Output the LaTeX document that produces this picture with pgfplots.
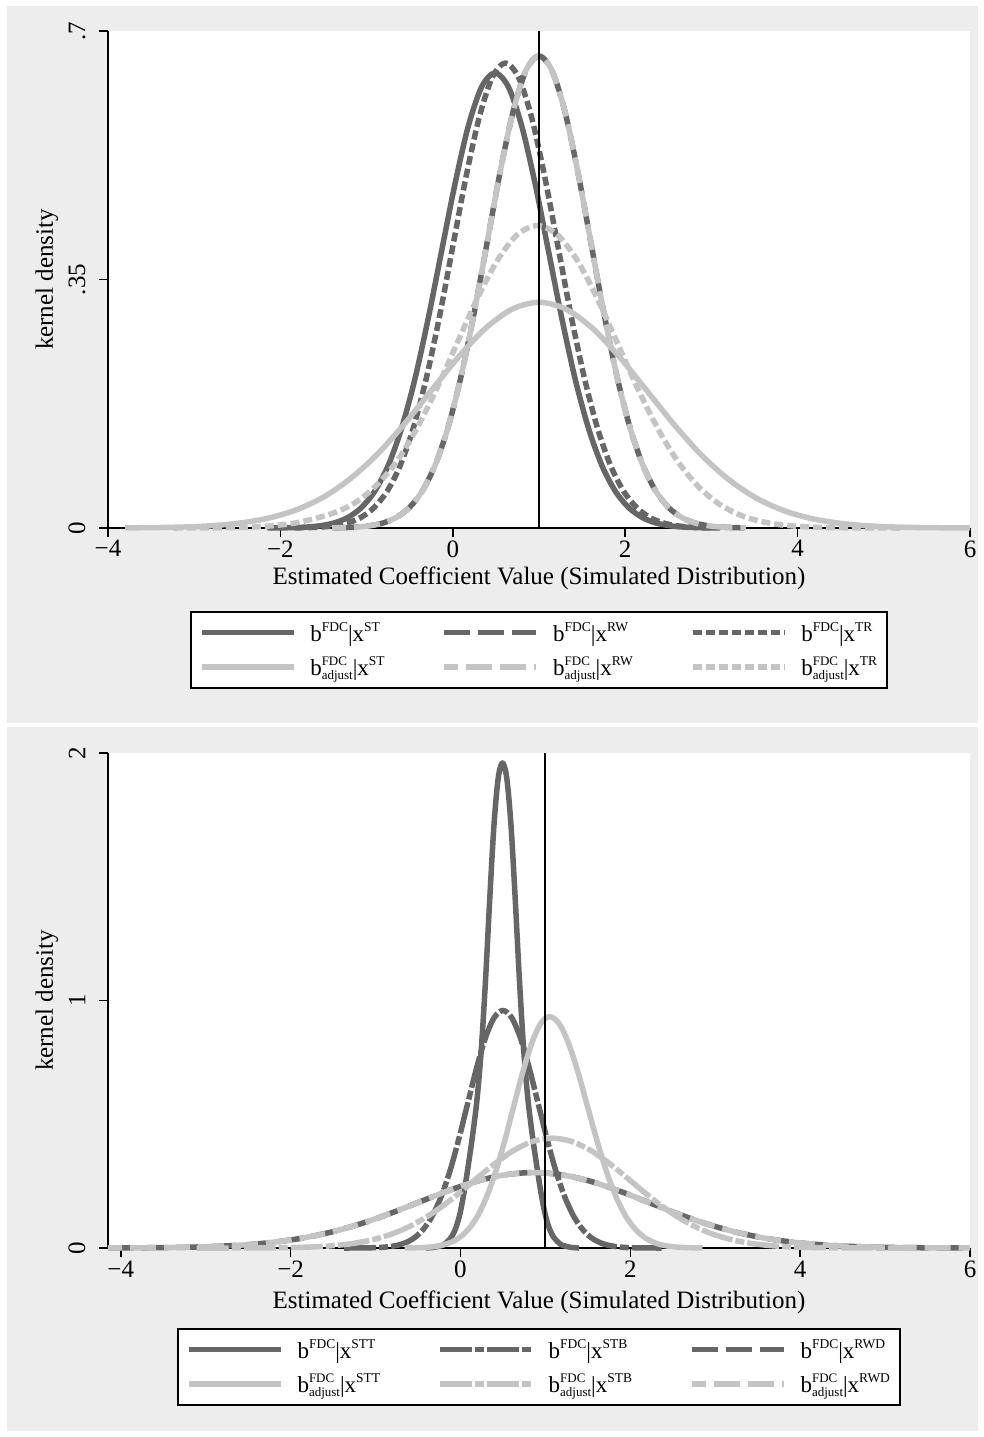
\documentclass[border=0pt]{standalone}
\usepackage{fontspec}
\setmainfont{Liberation Serif}
\usepackage{pgfplots}
\pgfplotsset{compat=1.18}
\definecolor{dk}{RGB}{102,102,102}
\definecolor{lt}{RGB}{196,196,196}
\definecolor{bg}{RGB}{237,237,237}
\newcommand\bigf{\fontsize{25}{30}\selectfont}
\newcommand\sps[1]{\raisebox{9.5pt}{\fontsize{13.5}{14}\selectfont #1}}
\newcommand\adj{\rlap{\raisebox{10pt}{\fontsize{13}{14}\selectfont FDC}}\raisebox{-4pt}{\fontsize{13}{14}\selectfont adjust}}
\pgfplotsset{
  stata/.style={
    scale only axis, width=862pt,
    axis x line*=bottom, axis y line*=left,
    axis line style={black, line width=1.6pt},
    tick align=outside, major tick length=9pt,
    tick style={black, line width=1.6pt},
    tick label style={font=\bigf},
    label style={font=\bigf},
    axis background/.style={fill=white},
    clip=false,
    yticklabel style={rotate=90, anchor=south},
    yticklabel shift=10pt,
    legend columns=3,
    legend cell align=left,
    legend style={draw=black, line width=1.5pt, fill=white, font=\fontsize{23}{27}\selectfont,
      anchor=north, /tikz/every even column/.append style={column sep=55pt},
      /tikz/every odd column/.append style={column sep=12pt},
      inner xsep=8pt, inner ysep=9pt, row sep=10pt},
    legend image code/.code={\draw[##1] (0pt,0pt) -- (92pt,0pt);},
    every axis plot/.append style={line width=5.5pt, smooth, line join=round},
  },
  dks/.style={draw=dk, solid},
  lts/.style={draw=lt, solid},
}
\begin{document}
\begin{tikzpicture}
\useasboundingbox (0pt,0pt) rectangle (984pt,-1437pt);
\fill[white] (0pt,0pt) rectangle (984pt,-1437pt);
\fill[bg] (7pt,-6pt) rectangle (978pt,-723pt);
\fill[bg] (7pt,-727pt) rectangle (978pt,-1431pt);

\begin{axis}[stata, at={(108pt,-528pt)}, anchor=south west, height=497pt,
  xmin=-4, xmax=6, ymin=0, ymax=0.7,
  xtick={-4,-2,0,2,4,6}, xticklabels={−4,−2,0,2,4,6},
  ytick={0,0.35,0.7}, yticklabels={0,.35,.7},
  xlabel={Estimated Coefficient Value (Simulated Distribution)},
  ylabel={kernel density},
  xlabel style={at={(axis description cs:0.5,-0.1006)}, anchor=center},
  ylabel style={at={(axis description cs:-0.071,0.5)}, anchor=center},
  legend style={at={(0.5,-0.167)}},
]
\addplot[dks] coordinates {(-2.15,0.0001) (-1.998,0.0002) (-1.843,0.0006) (-1.687,0.0014) (-1.532,0.0033) (-1.376,0.0071) (-1.221,0.0146) (-1.065,0.0282) (-0.910,0.0510) (-0.754,0.0868) (-0.599,0.1386) (-0.443,0.2081) (-0.288,0.2935) (-0.132,0.3888) (0.024,0.4838) (0.179,0.5657) (0.335,0.6213) (0.490,0.6410) (0.645,0.6213) (0.801,0.5657) (0.957,0.4838) (1.112,0.3888) (1.268,0.2935) (1.423,0.2081) (1.579,0.1386) (1.734,0.0868) (1.890,0.0510) (2.045,0.0282) (2.201,0.0146) (2.356,0.0071) (2.512,0.0033) (2.667,0.0014) (2.823,0.0006) (2.978,0.0002) (3.1,0.0001)};
\addlegendentry{b\sps{FDC}|x\sps{ST}}
\addplot[draw=dk, dash pattern=on 26pt off 8pt] coordinates {(-1.40,0.0002) (-1.25,0.0006) (-1.10,0.0015) (-0.95,0.0034) (-0.80,0.0074) (-0.65,0.0152) (-0.50,0.0292) (-0.35,0.0529) (-0.20,0.0900) (-0.05,0.1438) (0.10,0.2159) (0.25,0.3045) (0.40,0.4033) (0.55,0.5020) (0.70,0.5869) (0.85,0.6445) (1.00,0.6650) (1.15,0.6445) (1.30,0.5869) (1.45,0.5020) (1.60,0.4033) (1.75,0.3045) (1.90,0.2159) (2.05,0.1438) (2.20,0.0900) (2.35,0.0529) (2.50,0.0292) (2.65,0.0152) (2.80,0.0074) (2.95,0.0034) (3.10,0.0015) (3.25,0.0006) (3.40,0.0002)};
\addlegendentry{b\sps{FDC}|x\sps{RW}}
\addplot[draw=dk, dash pattern=on 9pt off 4pt] coordinates {(-1.826,0.0002) (-1.674,0.0006) (-1.522,0.0014) (-1.369,0.0033) (-1.217,0.0073) (-1.065,0.0149) (-0.913,0.0288) (-0.760,0.0521) (-0.608,0.0886) (-0.456,0.1417) (-0.304,0.2127) (-0.151,0.2999) (0.001,0.3973) (0.153,0.4944) (0.306,0.5780) (0.458,0.6348) (0.610,0.6550) (0.762,0.6348) (0.915,0.5780) (1.067,0.4944) (1.219,0.3973) (1.371,0.2999) (1.524,0.2127) (1.676,0.1417) (1.828,0.0886) (1.980,0.0521) (2.133,0.0288) (2.285,0.0149) (2.437,0.0073) (2.589,0.0033) (2.742,0.0014) (2.894,0.0006) (3.046,0.0002)};
\addlegendentry{b\sps{FDC}|x\sps{TR}}
\addplot[lts] coordinates {(-3.800,0.0002) (-3.389,0.0007) (-3.076,0.0016) (-2.762,0.0035) (-2.449,0.0073) (-2.135,0.0140) (-1.822,0.0253) (-1.508,0.0430) (-1.195,0.0688) (-0.881,0.1032) (-0.568,0.1456) (-0.254,0.1929) (0.060,0.2400) (0.373,0.2806) (0.687,0.3082) (1.000,0.3180) (1.314,0.3082) (1.627,0.2806) (1.941,0.2400) (2.254,0.1929) (2.568,0.1456) (2.881,0.1032) (3.195,0.0688) (3.508,0.0430) (3.822,0.0253) (4.135,0.0140) (4.449,0.0073) (4.762,0.0035) (5.076,0.0016) (5.389,0.0007) (5.703,0.0003) (6.000,0.0001)};
\addlegendentry{b\adj|x\sps{ST}}
\addplot[draw=lt, dash pattern=on 26pt off 8pt, dash phase=12pt] coordinates {(-1.40,0.0002) (-1.25,0.0006) (-1.10,0.0015) (-0.95,0.0034) (-0.80,0.0074) (-0.65,0.0152) (-0.50,0.0292) (-0.35,0.0529) (-0.20,0.0900) (-0.05,0.1438) (0.10,0.2159) (0.25,0.3045) (0.40,0.4033) (0.55,0.5020) (0.70,0.5869) (0.85,0.6445) (1.00,0.6650) (1.15,0.6445) (1.30,0.5869) (1.45,0.5020) (1.60,0.4033) (1.75,0.3045) (1.90,0.2159) (2.05,0.1438) (2.20,0.0900) (2.35,0.0529) (2.50,0.0292) (2.65,0.0152) (2.80,0.0074) (2.95,0.0034) (3.10,0.0015) (3.25,0.0006) (3.40,0.0002)};
\addlegendentry{b\adj|x\sps{RW}}
\addplot[draw=lt, dash pattern=on 9pt off 4pt] coordinates {(-3.237,0.0000) (-2.768,0.0002) (-2.534,0.0006) (-2.300,0.0014) (-2.065,0.0035) (-1.831,0.0070) (-1.597,0.0135) (-1.363,0.0220) (-1.128,0.0360) (-0.894,0.0590) (-0.660,0.0921) (-0.426,0.1383) (-0.191,0.1950) (0.043,0.2584) (0.277,0.3216) (0.512,0.3759) (0.746,0.4129) (0.980,0.4260) (1.214,0.4129) (1.449,0.3759) (1.683,0.3216) (1.917,0.2584) (2.151,0.1950) (2.386,0.1383) (2.620,0.0921) (2.854,0.0577) (3.088,0.0339) (3.323,0.0187) (3.557,0.0097) (3.791,0.0047) (4.025,0.0022) (4.260,0.0009) (4.494,0.0004) (4.728,0.0001) (5.197,0.0000)};
\addlegendentry{b\adj|x\sps{TR}}
\addplot[black, line width=1.8pt, solid, forget plot] coordinates {(1,0) (1,0.7)};
\end{axis}

\begin{axis}[stata, at={(108pt,-1248pt)}, anchor=south west, height=495pt,
  xmin=-4.15, xmax=6, ymin=0, ymax=2,
  xtick={-4,-2,0,2,4,6}, xticklabels={−4,−2,0,2,4,6},
  ytick={0,1,2}, yticklabels={0,1,2},
  xlabel={Estimated Coefficient Value (Simulated Distribution)},
  ylabel={kernel density},
  xlabel style={at={(axis description cs:0.5,-0.109)}, anchor=center},
  ylabel style={at={(axis description cs:-0.071,0.5)}, anchor=center},
  legend style={at={(0.5,-0.1616)}},
]
\addplot[dks] coordinates {(-0.405,0.000) (-0.305,0.003) (-0.205,0.012) (-0.155,0.025) (-0.105,0.045) (-0.055,0.080) (-0.005,0.140) (0.045,0.230) (0.095,0.340) (0.145,0.460) (0.195,0.600) (0.245,0.800) (0.295,1.080) (0.345,1.410) (0.395,1.710) (0.445,1.900) (0.495,1.960) (0.545,1.900) (0.595,1.710) (0.645,1.410) (0.695,1.080) (0.745,0.800) (0.795,0.600) (0.845,0.460) (0.895,0.340) (0.945,0.230) (0.995,0.140) (1.045,0.080) (1.095,0.045) (1.145,0.025) (1.195,0.012) (1.295,0.003) (1.395,0.000)};
\addlegendentry{b\sps{FDC}|x\sps{STT}}
\addplot[draw=dk, dash pattern=on 32pt off 3pt on 9pt off 3pt] coordinates {(-1.370,0.0000) (-1.162,0.0003) (-1.059,0.0009) (-0.955,0.0021) (-0.851,0.0049) (-0.747,0.0107) (-0.643,0.0219) (-0.539,0.0421) (-0.435,0.0764) (-0.331,0.1299) (-0.227,0.2076) (-0.123,0.3117) (-0.020,0.4395) (0.084,0.5822) (0.188,0.7246) (0.292,0.8472) (0.396,0.9304) (0.500,0.9600) (0.604,0.9304) (0.708,0.8472) (0.812,0.7246) (0.916,0.5822) (1.020,0.4395) (1.123,0.3117) (1.227,0.2076) (1.331,0.1299) (1.435,0.0764) (1.539,0.0421) (1.643,0.0219) (1.747,0.0107) (1.851,0.0049) (1.955,0.0021) (2.059,0.0009) (2.162,0.0003) (2.370,0.0000)};
\addlegendentry{b\sps{FDC}|x\sps{STB}}
\addplot[draw=dk, dash pattern=on 26pt off 8pt] coordinates {(-4.150,0.0003) (-3.865,0.0007) (-3.528,0.0016) (-3.190,0.0034) (-2.853,0.0070) (-2.515,0.0134) (-2.178,0.0243) (-1.840,0.0413) (-1.503,0.0660) (-1.165,0.0990) (-0.828,0.1396) (-0.490,0.1850) (-0.153,0.2302) (0.185,0.2692) (0.523,0.2956) (0.860,0.3050) (1.198,0.2956) (1.535,0.2692) (1.873,0.2302) (2.210,0.1850) (2.548,0.1396) (2.885,0.0990) (3.223,0.0660) (3.560,0.0413) (3.898,0.0243) (4.235,0.0134) (4.573,0.0070) (4.910,0.0034) (5.248,0.0016) (5.585,0.0007) (5.923,0.0003) (6.000,0.0002)};
\addlegendentry{b\sps{FDC}|x\sps{RWD}}
\addplot[lts] coordinates {(-0.656,0.0003) (-0.550,0.0008) (-0.443,0.0021) (-0.336,0.0048) (-0.230,0.0104) (-0.123,0.0213) (-0.017,0.0410) (0.090,0.0744) (0.197,0.1265) (0.303,0.2022) (0.410,0.3036) (0.517,0.4281) (0.623,0.5671) (0.730,0.7057) (0.837,0.8251) (0.943,0.9062) (1.050,0.9350) (1.163,0.9062) (1.275,0.8251) (1.388,0.7057) (1.500,0.5671) (1.613,0.4281) (1.725,0.3036) (1.838,0.2022) (1.950,0.1265) (2.063,0.0744) (2.175,0.0410) (2.288,0.0213) (2.400,0.0104) (2.513,0.0048) (2.625,0.0021) (2.738,0.0008) (2.850,0.0003)};
\addlegendentry{b\adj|x\sps{STT}}
\addplot[draw=lt, dash pattern=on 32pt off 3pt on 9pt off 3pt] coordinates {(-3.105,0.0000) (-2.640,0.0001) (-2.408,0.0004) (-2.175,0.0010) (-1.943,0.0023) (-1.710,0.0049) (-1.478,0.0101) (-1.245,0.0195) (-1.013,0.0353) (-0.780,0.0601) (-0.548,0.0960) (-0.315,0.1442) (-0.083,0.2033) (0.150,0.2693) (0.383,0.3351) (0.615,0.3918) (0.848,0.4303) (1.080,0.4440) (1.313,0.4303) (1.545,0.3918) (1.778,0.3351) (2.010,0.2693) (2.243,0.2033) (2.475,0.1442) (2.708,0.0960) (2.940,0.0601) (3.173,0.0353) (3.405,0.0195) (3.638,0.0101) (3.870,0.0049) (4.103,0.0023) (4.335,0.0010) (4.568,0.0004) (4.800,0.0001) (5.265,0.0000)};
\addlegendentry{b\adj|x\sps{STB}}
\addplot[draw=lt, dash pattern=on 26pt off 8pt, dash phase=12pt] coordinates {(-4.150,0.0003) (-3.865,0.0007) (-3.528,0.0016) (-3.190,0.0034) (-2.853,0.0070) (-2.515,0.0134) (-2.178,0.0243) (-1.840,0.0413) (-1.503,0.0660) (-1.165,0.0990) (-0.828,0.1396) (-0.490,0.1850) (-0.153,0.2302) (0.185,0.2692) (0.523,0.2956) (0.860,0.3050) (1.198,0.2956) (1.535,0.2692) (1.873,0.2302) (2.210,0.1850) (2.548,0.1396) (2.885,0.0990) (3.223,0.0660) (3.560,0.0413) (3.898,0.0243) (4.235,0.0134) (4.573,0.0070) (4.910,0.0034) (5.248,0.0016) (5.585,0.0007) (5.923,0.0003) (6.000,0.0002)};
\addlegendentry{b\adj|x\sps{RWD}}
\addplot[black, line width=1.8pt, solid, forget plot] coordinates {(1,0) (1,2)};
\end{axis}
\end{tikzpicture}
\end{document}
